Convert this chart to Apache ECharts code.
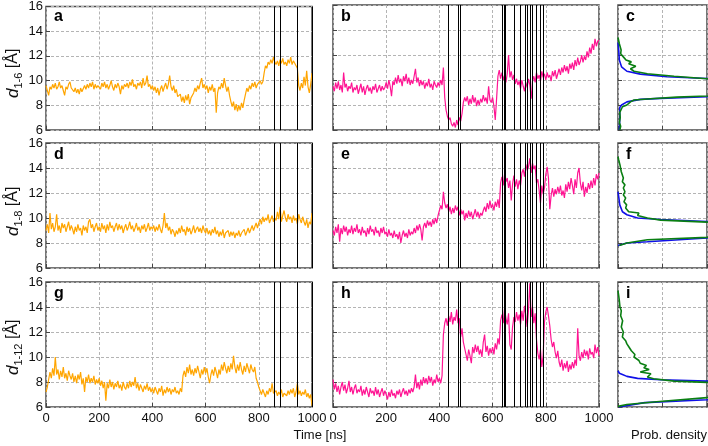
<!DOCTYPE html>
<html>
<head>
<meta charset="utf-8">
<script src="https://cdn.jsdelivr.net/npm/echarts@6/dist/echarts.min.js"></script>
<style>
  html, body { margin: 0; padding: 0; background: #fff; }
  #chart { width: 708px; height: 446px; }
</style>
</head>
<body>
<div id="chart"></div>
<script>
// sampling grid of the trajectories (ns)
const times = []
for (let t = 0; t <= 1000; t += 5) times.push(t)

// d1-6, left (orange) and middle (pink)
const d16Orange = [
  9.6, 9.2, 8.8, 9.5, 9.3, 9.7, 9.4, 9.8, 9.3, 9.5, 9.9, 9.4, 9.6, 9.2, 8.8, 9.5, 9.3, 9.7, 9.9, 9.4,
  9.5, 9.1, 9.4, 9.0, 9.3, 8.9, 9.4, 9.1, 9.2, 9.6, 9.3, 9.7, 9.4, 9.8, 9.5, 9.9, 9.3, 9.7, 9.4, 9.6,
  9.6, 9.3, 9.8, 9.5, 9.9, 9.4, 9.7, 9.3, 9.6, 10.0, 9.5, 9.2, 9.7, 9.4, 9.8, 9.5, 8.9, 9.6, 9.3, 9.7,
  9.5, 9.8, 9.4, 9.9, 9.6, 10.1, 9.5, 9.7, 9.3, 9.8, 9.6, 9.9, 9.4, 10.2, 9.6, 9.8, 10.4, 9.5, 9.7, 9.3,
  9.6, 9.2, 9.5, 9.0, 9.4, 8.8, 9.3, 9.6, 9.1, 9.5, 9.8, 9.3, 9.7, 10.4, 9.5, 9.2, 9.6, 9.0, 9.3, 8.7,
  8.6, 8.9, 8.3, 8.7, 8.2, 8.8, 8.4, 8.9, 8.1, 8.6, 8.5, 9.0, 9.4, 9.1, 9.6, 9.3, 9.8, 10.2, 9.4, 9.7,
  9.3, 9.6, 9.0, 9.5, 9.2, 9.7, 9.1, 9.4, 7.4, 9.0, 9.5, 9.3, 9.8, 9.4, 10.2, 9.6, 9.1, 9.5, 8.8, 8.3,
  7.9, 8.3, 7.6, 8.1, 7.5, 8.0, 7.6, 8.2, 7.8, 8.4, 8.9, 9.4, 9.1, 9.6, 9.3, 9.8, 9.5, 9.9, 9.4, 9.7,
  9.6, 10.0, 9.7, 9.9, 10.6, 11.2, 11.0, 11.5, 11.3, 11.7, 11.4, 11.9, 11.5, 11.3, 11.6, 11.2, 11.7, 11.4, 11.8, 11.3,
  11.5, 11.2, 11.7, 11.4, 11.9, 11.3, 11.6, 11.5, 11.2, 11.0, 9.6, 9.2, 9.8, 9.4, 10.3, 9.6, 10.8, 9.5, 9.0, 9.7,
  10.6
]
const d16Pink = [
  9.5, 9.1, 9.8, 9.3, 9.9, 9.2, 9.6, 9.0, 10.6, 9.4, 9.7, 9.1, 9.5, 9.3, 9.8, 9.0, 9.4, 9.2, 9.6, 8.9,
  9.3, 9.7, 9.0, 9.5, 8.8, 9.3, 9.6, 9.1, 9.4, 8.9, 9.5, 9.2, 9.7, 9.0, 9.3, 9.6, 9.1, 9.5, 9.2, 9.4,
  9.8, 9.3, 10.0, 9.5, 8.7, 9.9, 9.6, 10.2, 9.7, 10.4, 9.8, 10.1, 9.5, 10.3, 9.9, 10.5, 9.7, 10.2, 9.6, 10.0,
  9.7, 10.3, 10.9, 9.8, 10.2, 9.5, 10.0, 9.6, 9.9, 9.3, 9.8, 9.5, 10.1, 9.4, 9.7, 9.2, 9.9, 9.6, 9.4, 9.8,
  9.5, 10.0, 9.6, 11.0, 8.6, 7.6, 7.1, 6.8, 7.0, 6.5, 6.3, 6.6, 6.2, 6.8, 6.4, 7.0, 6.7, 7.3, 8.2, 8.6,
  8.3, 8.7, 8.0, 8.5, 8.1, 8.8, 8.2, 8.6, 7.9, 8.4, 8.0, 8.5, 8.2, 8.8, 8.3, 8.6, 8.1, 9.5, 8.4, 8.2,
  8.6, 7.9, 6.8, 8.5, 10.3, 10.8, 10.1, 10.6, 10.0, 10.4, 9.8, 10.5, 12.0, 10.2, 10.7, 10.0, 10.4, 9.7, 10.1, 9.6,
  9.9, 9.3, 10.0, 9.5, 9.1, 9.8, 9.4, 10.1, 9.6, 8.5, 9.9, 10.3, 9.8, 10.6, 10.1, 10.4, 9.9, 10.7, 10.2, 10.5,
  10.0, 10.6, 10.2, 10.4, 9.9, 10.7, 10.3, 10.8, 10.1, 10.5, 10.9, 10.4, 11.0, 10.6, 11.2, 10.7, 11.1, 10.5, 11.3, 10.9,
  11.4, 10.8, 11.6, 11.1, 11.8, 11.2, 11.5, 12.0, 11.4, 11.9, 11.6, 12.3, 11.8, 12.6, 12.1, 12.9, 12.4, 13.3, 12.7, 13.1,
  13.2
]

// d1-8
const d18Orange = [
  9.0, 9.5, 8.8, 10.4, 9.1, 9.6, 8.9, 9.3, 10.3, 9.0, 9.4, 8.8, 9.6, 9.2, 9.5, 8.9, 9.3, 9.7, 9.0, 9.4,
  9.1, 8.7, 9.3, 8.9, 9.5, 9.0, 9.2, 8.6, 9.4, 9.0, 9.3, 8.8, 9.7, 9.9, 9.2, 9.5, 8.9, 9.3, 9.6, 9.0,
  9.3, 8.9, 9.6, 9.1, 9.4, 8.8, 9.5, 9.0, 9.7, 9.2, 9.4, 8.9, 9.3, 9.6, 9.0, 9.5, 9.1, 9.4, 8.8, 9.2,
  9.5, 9.0, 9.3, 9.7, 9.1, 9.4, 8.9, 9.2, 9.6, 9.0, 9.3, 8.8, 9.4, 9.1, 9.5, 8.9, 9.2, 9.6, 9.0, 9.3,
  9.1, 9.4, 8.9, 9.3, 9.0, 9.5, 9.1, 8.8, 9.4, 10.4, 9.2, 9.6, 9.0, 9.3, 8.7, 9.1, 8.9, 8.5, 9.0, 8.7,
  9.2, 8.8, 9.4, 8.9, 9.1, 8.6, 9.3, 8.9, 9.2, 8.7, 9.0, 9.4, 8.8, 9.1, 9.3, 8.9, 9.2, 8.8, 9.4, 9.0,
  8.8, 9.2, 8.7, 9.0, 8.6, 9.1, 8.8, 9.3, 8.7, 9.0, 8.5, 8.9, 8.6, 9.1, 8.4, 8.8, 8.7, 9.0, 8.5, 8.9,
  8.6, 8.9, 8.4, 8.8, 8.6, 9.0, 8.5, 8.8, 8.7, 9.1, 8.6, 8.9, 9.2, 8.8, 9.1, 9.4, 9.0, 9.3, 9.6, 9.2,
  9.6, 9.9, 9.5, 10.1, 9.7, 10.0, 9.8, 10.3, 9.6, 9.9, 10.2, 9.7, 10.0, 9.8, 10.5, 9.9, 10.9, 9.7, 10.2, 10.6,
  10.0, 9.7, 10.3, 9.9, 10.1, 9.6, 10.2, 9.8, 10.0, 9.5, 10.3, 9.9, 9.6, 10.1, 9.7, 9.4, 9.9, 9.2, 9.7, 9.5,
  10.4
]
const d18Pink = [
  9.0, 8.6, 9.3, 8.8, 9.5, 8.1, 9.2, 8.7, 9.4, 8.9, 9.3, 8.6, 9.1, 8.8, 9.4, 8.7, 9.2, 8.9, 9.5, 8.8,
  9.1, 8.6, 9.3, 8.8, 9.0, 8.5, 9.2, 8.7, 9.4, 8.9, 9.1, 8.6, 9.3, 8.8, 9.0, 8.5, 9.2, 8.8, 9.3, 8.7,
  8.9, 8.5, 9.1, 8.6, 8.8, 8.4, 9.0, 8.5, 8.7, 8.3, 8.9, 8.0, 8.6, 9.0, 8.5, 8.8, 8.4, 9.1, 8.6, 8.9,
  8.7, 9.2, 8.8, 9.4, 9.0, 9.5, 9.1, 8.2, 9.3, 9.6, 9.2, 9.8, 9.4, 9.7, 9.3, 9.9, 9.5, 10.0, 9.6, 10.2,
  10.6, 11.0, 10.7, 12.1, 11.2, 10.8, 11.1, 10.5, 10.9, 10.3, 10.8, 10.4, 11.0, 10.6, 10.9, 10.2, 10.7, 10.3, 10.6, 9.8,
  10.4, 10.0, 10.6, 10.1, 10.5, 9.9, 10.3, 10.7, 10.1, 10.5, 10.0, 10.4, 10.2, 10.6, 10.9, 10.5, 11.2, 10.7, 11.4, 10.8,
  11.1, 10.6, 11.3, 10.9, 11.5, 10.8, 12.8, 13.3, 12.6, 13.5, 12.9, 13.2, 12.4, 13.0, 11.4, 12.7, 13.4, 12.5, 13.1, 12.3,
  13.0, 12.6, 13.6, 13.9, 13.3, 14.3, 13.8, 14.1, 14.8, 13.6, 14.4, 13.9, 14.2, 12.8, 13.1, 12.2, 11.2, 12.6, 11.9, 12.4,
  13.5, 14.1, 13.2, 10.7, 11.8, 12.4, 11.7, 12.3, 11.9, 12.5, 12.0, 12.6, 11.8, 12.2, 11.6, 12.7, 12.1, 12.9, 12.3, 13.2,
  12.6, 11.9, 13.1, 12.4, 13.6, 14.0, 12.8, 12.2, 12.9, 11.7, 12.5, 12.0, 12.8, 12.3, 13.0, 12.4, 13.2, 12.6, 13.5, 13.1,
  13.6
]

// d1-12
const d112Orange = [
  7.2, 7.6, 8.2, 8.8, 8.3, 9.1, 8.5, 10.0, 8.6, 9.0, 8.2, 8.9, 8.4, 9.2, 8.3, 8.7, 8.1, 8.9, 8.5, 8.2,
  8.7, 8.0, 8.5, 7.9, 8.6, 8.2, 8.8, 7.8, 8.3, 7.2, 8.4, 8.0, 8.6, 7.9, 8.3, 8.0, 8.5, 7.8, 8.2, 7.9,
  8.3, 7.7, 8.1, 7.5, 8.0, 6.5, 7.9, 7.5, 8.2, 7.6, 8.0, 7.4, 7.9, 7.6, 8.1, 7.5, 7.8, 7.3, 8.0, 7.6,
  7.4, 7.9, 7.5, 8.1, 7.6, 8.0, 7.7, 8.4, 7.5, 7.9, 7.3, 7.8, 7.5, 7.2, 7.7, 7.4, 7.9, 7.3, 7.6, 7.2,
  7.5, 7.1, 7.6, 7.3, 7.0, 7.5, 7.2, 7.7, 6.9, 7.4, 7.1, 7.6, 7.2, 7.5, 7.0, 7.4, 7.2, 7.6, 7.1, 7.3,
  7.0, 7.5, 7.2, 8.5, 8.9, 8.4, 9.2, 8.7, 9.4, 8.6, 9.0, 8.5, 9.1, 8.7, 9.3, 8.8, 8.3, 9.0, 8.6, 9.2,
  8.7, 9.1, 8.4, 7.9, 8.6, 9.0, 8.5, 9.2, 8.8, 8.3, 9.0, 8.6, 9.4, 8.9, 9.6, 9.1, 8.7, 9.3, 8.8, 9.5,
  9.0, 10.1, 9.2, 8.7, 9.4, 8.9, 9.6, 9.0, 8.6, 9.3, 8.8, 9.5, 9.1, 8.7, 9.4, 9.0, 8.8, 9.2, 8.3, 8.0,
  7.6, 7.3, 7.0, 7.4, 7.1, 6.8, 7.3, 7.0, 7.5, 7.2, 7.9, 7.1, 7.0, 7.3, 6.9, 7.2, 7.0, 7.4, 6.8, 7.1,
  7.2, 6.9, 7.3, 7.0, 7.4, 7.1, 7.5, 6.8, 7.2, 7.9, 7.0, 7.3, 6.9, 7.2, 7.0, 7.4, 6.8, 7.1, 6.7, 7.0,
  6.1
]
const d112Pink = [
  8.2, 7.4, 7.9, 7.2, 7.7, 7.0, 7.6, 8.0, 7.3, 7.8, 7.1, 7.5, 8.1, 7.2, 7.6, 7.0, 7.5, 7.8, 7.1, 7.4,
  7.2, 7.7, 6.9, 7.4, 7.0, 7.6, 7.2, 6.8, 7.5, 7.1, 7.3, 6.9, 7.6, 7.0, 7.4, 6.8, 7.2, 7.5, 6.9, 7.3,
  7.0, 6.6, 7.2, 6.8, 7.4, 6.9, 7.1, 6.7, 7.3, 7.0, 7.4, 6.8, 7.2, 7.5, 7.0, 7.3, 6.9, 7.4, 7.1, 7.5,
  7.2, 7.6, 8.6, 7.5, 8.0, 7.4, 8.2, 7.7, 8.4, 7.9, 8.3, 7.8, 8.5, 8.0, 8.4, 7.7, 8.2, 7.9, 8.6, 8.0,
  8.3, 7.9, 8.5, 11.8, 12.7, 13.1, 12.5, 13.3, 12.8, 13.6, 12.6, 13.2, 12.9, 13.8, 12.7, 13.1, 11.6, 12.3, 11.2, 10.7,
  10.2, 9.7, 10.6, 10.1, 9.5, 10.8, 10.3, 11.0, 10.4, 10.9, 10.2, 10.6, 10.0, 11.2, 11.8, 10.4, 10.9, 10.1, 10.7, 10.3,
  10.8, 10.2, 11.1, 10.6, 11.5, 11.0, 12.9, 13.4, 12.7, 13.9, 13.1, 12.6, 13.5, 11.0, 10.6, 12.4, 13.2, 12.8, 13.6, 12.9,
  13.4, 12.6, 13.7, 12.9, 14.1, 13.3, 12.4, 13.8, 15.9, 13.2, 14.0, 12.7, 13.5, 11.4, 10.3, 9.8, 10.6, 9.2, 10.1, 12.8,
  13.6, 14.0, 13.3, 12.5, 11.4, 10.8, 11.2, 10.4, 9.9, 10.5, 9.6, 9.2, 9.8, 8.9, 9.5, 9.1, 9.7, 8.8, 9.4, 9.0,
  9.6, 9.1, 9.8, 9.3, 12.3, 10.1, 9.7, 10.4, 9.9, 10.6, 10.1, 10.5, 9.8, 10.7, 10.2, 10.4, 9.9, 11.0, 10.3, 10.8,
  10.1
]

// probability densities [density, distance]
const densC_blue = [[0.015,6.0],[0.02,7.0],[0.02,7.8],[0.04,8.0],[0.1,8.25],[0.25,8.45],[0.48,8.53],[1.0,8.66],[1.6,8.9],[1.7,9.5],[1.6,9.95],[1.0,10.12],[0.55,10.26],[0.25,10.47],[0.1,10.7],[0.04,11.05],[0.015,11.6],[0.008,12.4],[0.0,13.0]]
const densC_green = [[0.02,6.0],[0.03,6.3],[0.015,6.6],[0.025,7.0],[0.02,7.4],[0.05,7.86],[0.1,8.0],[0.08,8.1],[0.14,8.25],[0.18,8.4],[0.37,8.5],[0.66,8.63],[1.0,8.72],[1.6,9.0],[1.7,9.5],[1.6,9.9],[1.0,10.1],[0.63,10.3],[0.33,10.5],[0.18,10.7],[0.14,10.9],[0.2,11.1],[0.12,11.3],[0.15,11.45],[0.09,11.6],[0.06,11.85],[0.03,12.1],[0.035,12.4],[0.015,12.9],[0.0,13.4]]
const densF_blue = [[0.0,7.8],[0.1,8.0],[0.33,8.1],[1.0,8.4],[1.6,8.8],[1.7,9.2],[1.6,9.6],[1.0,9.72],[0.48,9.88],[0.22,10.0],[0.2,10.1],[0.1,10.26],[0.05,10.5],[0.02,11.05],[0.01,11.6],[0.0,12.1]]
const densF_green = [[0.015,7.8],[0.1,8.0],[0.33,8.26],[1.0,8.45],[1.6,8.8],[1.7,9.2],[1.6,9.55],[1.0,9.67],[0.48,9.83],[0.33,10.0],[0.22,10.2],[0.235,10.4],[0.12,10.5],[0.086,10.8],[0.097,11.05],[0.067,11.3],[0.086,11.6],[0.06,11.85],[0.078,12.1],[0.06,12.4],[0.078,12.65],[0.049,12.9],[0.06,13.2],[0.037,13.7],[0.022,14.25],[0.008,14.65],[0.0,14.9]]
const densI_blue = [[0.01,6.0],[0.3,6.35],[1.0,6.58],[1.6,6.9],[1.7,7.4],[1.6,7.9],[1.0,8.07],[0.48,8.18],[0.22,8.29],[0.1,8.45],[0.05,8.6],[0.015,8.7],[0.0,8.9]]
const densI_green = [[0.0,6.05],[0.1,6.2],[0.4,6.4],[1.0,6.75],[1.6,7.0],[1.7,7.4],[1.6,7.85],[1.0,7.97],[0.63,8.07],[0.4,8.26],[0.33,8.4],[0.37,8.66],[0.25,8.8],[0.35,9.0],[0.29,9.14],[0.32,9.32],[0.25,9.5],[0.235,9.72],[0.18,10.0],[0.19,10.2],[0.15,10.5],[0.123,10.8],[0.1,11.05],[0.086,11.3],[0.049,11.6],[0.06,12.0],[0.037,12.4],[0.052,12.9],[0.03,13.3],[0.037,13.7],[0.022,14.0],[0.015,14.5],[0.008,14.9],[0.0,15.3]]

// transition times (vertical lines)
const eventsLeft = [857, 879, 945, 1000]
const eventsMid = [434, 469, 478, 638, 643, 648, 683, 704, 723, 731, 740, 748, 764, 779, 792]

const panelLetters = ['a', 'b', 'c', 'd', 'e', 'f', 'g', 'h', 'i']
const rowNames = ['1-6', '1-8', '1-12']
const timeTicks = { min: 0, max: 1000, interval: 200 }
const distTicks = { min: 6, max: 16, interval: 2 }

const FONT = '"Liberation Sans", Arial, sans-serif'
const ORANGE = '#ffa500'
const PINK = '#ff1493'
const BLUE = '#1010e8'
const GREEN = '#0a7f12'

const cols = [{ left: 46, width: 266 }, { left: 333, width: 266 }, { left: 618, width: 89 }]
const rows = [5, 143, 282]
const PANEL_H = 125

const grid = [], xAxis = [], yAxis = [], series = [], graphic = []

const splitStyle = { show: true, lineStyle: { color: '#b4b4b4', type: [3, 2], width: 1 } }
const tickStyle = { show: true, inside: true, length: 4, lineStyle: { color: '#444', width: 1 } }

rows.forEach((top, r) => {
    cols.forEach((c, ci) => {
        const idx = r * 3 + ci
        grid.push({ left: c.left, top: top, width: c.width, height: PANEL_H, show: true, borderColor: '#4a4a4a', borderWidth: 1.5, containLabel: false })
        const isDens = ci === 2
        xAxis.push({
            type: 'value', gridIndex: idx,
            min: isDens ? 0 : timeTicks.min, max: isDens ? 1 : timeTicks.max, interval: isDens ? 0.5 : timeTicks.interval,
            axisLine: { show: false }, axisTick: tickStyle, splitLine: splitStyle,
            axisLabel: { show: r === 2 && !isDens, fontSize: 13, color: '#111', fontFamily: FONT, margin: 5, formatter: v => String(v) }
        })
        yAxis.push({
            type: 'value', gridIndex: idx,
            min: distTicks.min, max: distTicks.max, interval: distTicks.interval,
            axisLine: { show: false }, axisTick: tickStyle, splitLine: splitStyle,
            axisLabel: { show: ci === 0, fontSize: 13, color: '#111', fontFamily: FONT, margin: 3 }
        })
        graphic.push({
            type: 'text', x: c.left + 8, y: top + 12,
            style: { text: panelLetters[idx], font: 'bold 16px ' + FONT, fill: '#000', verticalAlign: 'middle', textVerticalAlign: 'middle' }
        })
    })
    graphic.push({
        type: 'text', x: 13, y: top + 93, rotation: Math.PI / 2,
        style: {
            text: '{d|d}{s|' + rowNames[r] + '}{n| [Å]}',
            align: 'left', verticalAlign: 'middle', textAlign: 'left', textVerticalAlign: 'middle',
            rich: {
                d: { fontSize: 17, fontStyle: 'italic', fontFamily: FONT, fill: '#111', lineHeight: 22 },
                s: { fontSize: 11, fontFamily: FONT, fill: '#111', lineHeight: 12, verticalAlign: 'bottom' },
                n: { fontSize: 16, fontFamily: FONT, fill: '#111', lineHeight: 22 }
            }
        }
    })
})

graphic.push({ type: 'text', x: 320, y: 435, style: { text: 'Time [ns]', font: '13px ' + FONT, fill: '#111', align: 'center', verticalAlign: 'middle', textAlign: 'center', textVerticalAlign: 'middle' } })
graphic.push({ type: 'text', x: 669, y: 435, style: { text: 'Prob. density', font: '13px ' + FONT, fill: '#111', align: 'center', verticalAlign: 'middle', textAlign: 'center', textVerticalAlign: 'middle' } })

function pairs(vals) {
    return vals.map((v, i) => [times[i], v])
}

function markLines(events) {
    return {
        silent: true, symbol: ['none', 'none'], label: { show: false },
        lineStyle: { color: '#000', width: 1, type: 'solid' },
        emphasis: { disabled: true },
        data: events.map(x => ({ xAxis: x }))
    }
}

function trace(vals, color, idx, events) {
    return {
        type: 'line', xAxisIndex: idx, yAxisIndex: idx, data: pairs(vals),
        showSymbol: false, symbol: 'none', lineStyle: { color: color, width: 1.2 }, itemStyle: { color: color },
        markLine: markLines(events), z: 2
    }
}

function dens(data, color, idx) {
    return {
        type: 'line', xAxisIndex: idx, yAxisIndex: idx, data: data, clip: true,
        showSymbol: false, symbol: 'none', lineStyle: { color: color, width: 1.6 }, itemStyle: { color: color }
    }
}

series.push(
    trace(d16Orange, ORANGE, 0, eventsLeft), trace(d16Pink, PINK, 1, eventsMid),
    dens(densC_blue, BLUE, 2), dens(densC_green, GREEN, 2),
    trace(d18Orange, ORANGE, 3, eventsLeft), trace(d18Pink, PINK, 4, eventsMid),
    dens(densF_blue, BLUE, 5), dens(densF_green, GREEN, 5),
    trace(d112Orange, ORANGE, 6, eventsLeft), trace(d112Pink, PINK, 7, eventsMid),
    dens(densI_blue, BLUE, 8), dens(densI_green, GREEN, 8)
)

const chart = echarts.init(document.getElementById('chart'))
chart.setOption({
    animation: false,
    backgroundColor: '#fff',
    grid, xAxis, yAxis, series, graphic
})
</script>
</body>
</html>
